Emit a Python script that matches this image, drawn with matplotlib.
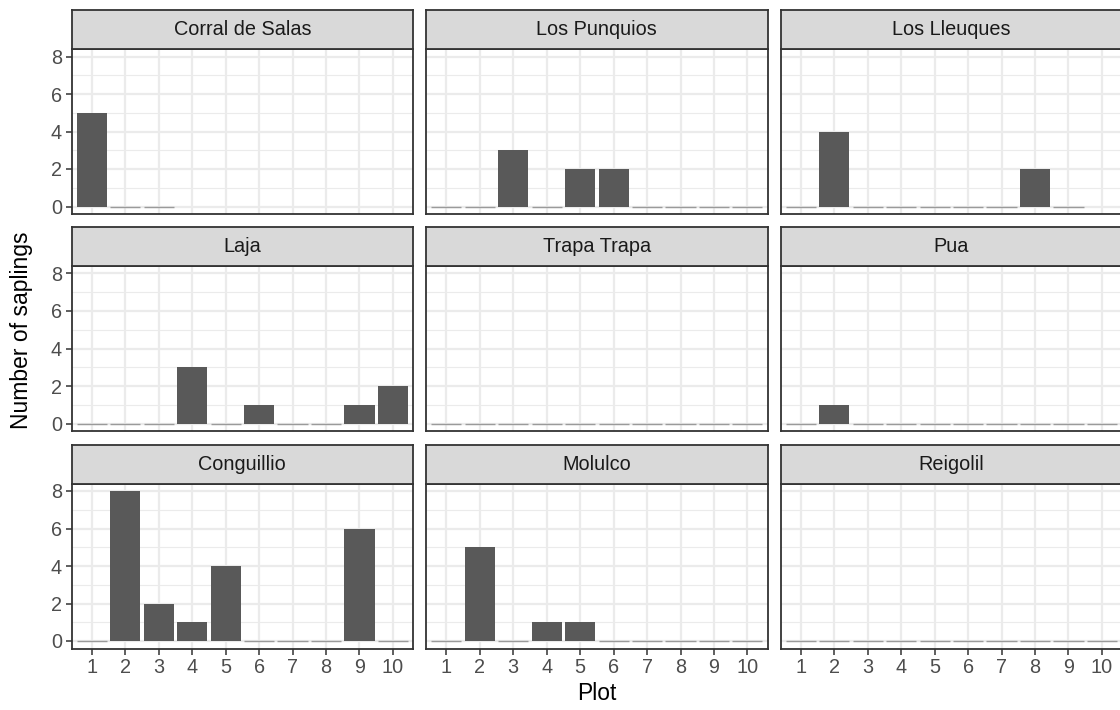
import numpy as np
import matplotlib
matplotlib.use("Agg")
import matplotlib.pyplot as plt

plt.rcParams['font.family'] = ['Liberation Sans', 'DejaVu Sans']

# sites in facet order (row by row)
sites = ['Corral de Salas', 'Los Punquios', 'Los Lleuques',
         'Laja', 'Trapa Trapa', 'Pua',
         'Conguillio', 'Molulco', 'Reigolil']

# saplings per plot, plot numbers start at 1
corral = [5, 0, 0]
punquios = [0, 0, 3, 0, 2, 2, 0, 0, 0, 0]
lleuques = [0, 4, 0, 0, 0, 0, 0, 2, 0]
laja = [0, 0, 0, 3, 0, 1, 0, 0, 1, 2]
trapa = [0, 0, 0, 0, 0, 0, 0, 0, 0, 0]
pua = [0, 1, 0, 0, 0, 0, 0, 0, 0, 0]
conguillio = [0, 8, 2, 1, 4, 0, 0, 0, 6, 0]
molulco = [0, 5, 0, 1, 1, 0, 0, 0, 0, 0]
reigolil = [0, 0, 0, 0, 0, 0, 0, 0, 0, 0]
counts = [corral, punquios, lleuques, laja, trapa, pua, conguillio, molulco, reigolil]

plot_ticks = list(range(1, 11))
y_ticks = [0, 2, 4, 6, 8]

W, H = 1120, 710
fig = plt.figure(figsize=(W / 100, H / 100), dpi=100)

col_left = [71.7, 426.2, 780.7]
panel_w = 341.3
strip_top = [10, 227, 444.5]
strip_h = 39
panel_h = 165

border = '#333333'
grid_c = '#ebebeb'

for i, (site, vals) in enumerate(zip(sites, counts)):
    r, c = divmod(i, 3)
    x0 = col_left[c]
    top = strip_top[r]
    # panel
    ax = fig.add_axes([x0 / W, 1 - (top + strip_h + panel_h) / H, panel_w / W, panel_h / H])
    ax.set_xlim(0.4, 10.6)
    ax.set_ylim(-0.4, 8.4)
    ax.set_axisbelow(True)
    for yv in [1, 3, 5, 7]:
        ax.axhline(yv, color=grid_c, lw=0.8, zorder=0)
    for yv in y_ticks:
        ax.axhline(yv, color=grid_c, lw=1.6, zorder=0)
    for xv in plot_ticks:
        ax.axvline(xv, color=grid_c, lw=1.6, zorder=0)

    xs = np.arange(1, len(vals) + 1)
    v = np.array(vals, dtype=float)
    nz = v > 0
    ax.bar(xs[nz], v[nz], width=0.9, color='#595959', zorder=2)
    ax.bar(xs[~nz], v[~nz], width=0.9, color='#595959',
           edgecolor='#9a9a9a', linewidth=1.0, zorder=2)

    for s in ax.spines.values():
        s.set_color(border)
        s.set_linewidth(1.3)
    ax.set_xticks(plot_ticks)
    ax.set_yticks(y_ticks)
    ax.tick_params(colors=border, length=4, width=1.1, labelcolor='#4d4d4d',
                   labelsize=14.3, pad=3)
    if r < 2:
        ax.set_xticklabels([])
        ax.tick_params(axis='x', length=0)
    if c > 0:
        ax.set_yticklabels([])
        ax.tick_params(axis='y', length=0)

    # strip
    sax = fig.add_axes([x0 / W, 1 - (top + strip_h) / H, panel_w / W, strip_h / H])
    sax.set_facecolor('#d9d9d9')
    sax.set_xticks([])
    sax.set_yticks([])
    for s in sax.spines.values():
        s.set_color(border)
        s.set_linewidth(1.3)
    sax.text(0.5, 0.5, site, ha='center', va='center', fontsize=14.3,
             color='#1a1a1a', transform=sax.transAxes)

fig.text(22 / W, 1 - 330 / H, 'Number of saplings', rotation=90, ha='center',
         va='center', fontsize=16.5, color='black')
fig.text(597 / W, 1 - 694 / H, 'Plot', ha='center', va='center', fontsize=16.5,
         color='black')

fig.savefig('out.png', dpi=100)
